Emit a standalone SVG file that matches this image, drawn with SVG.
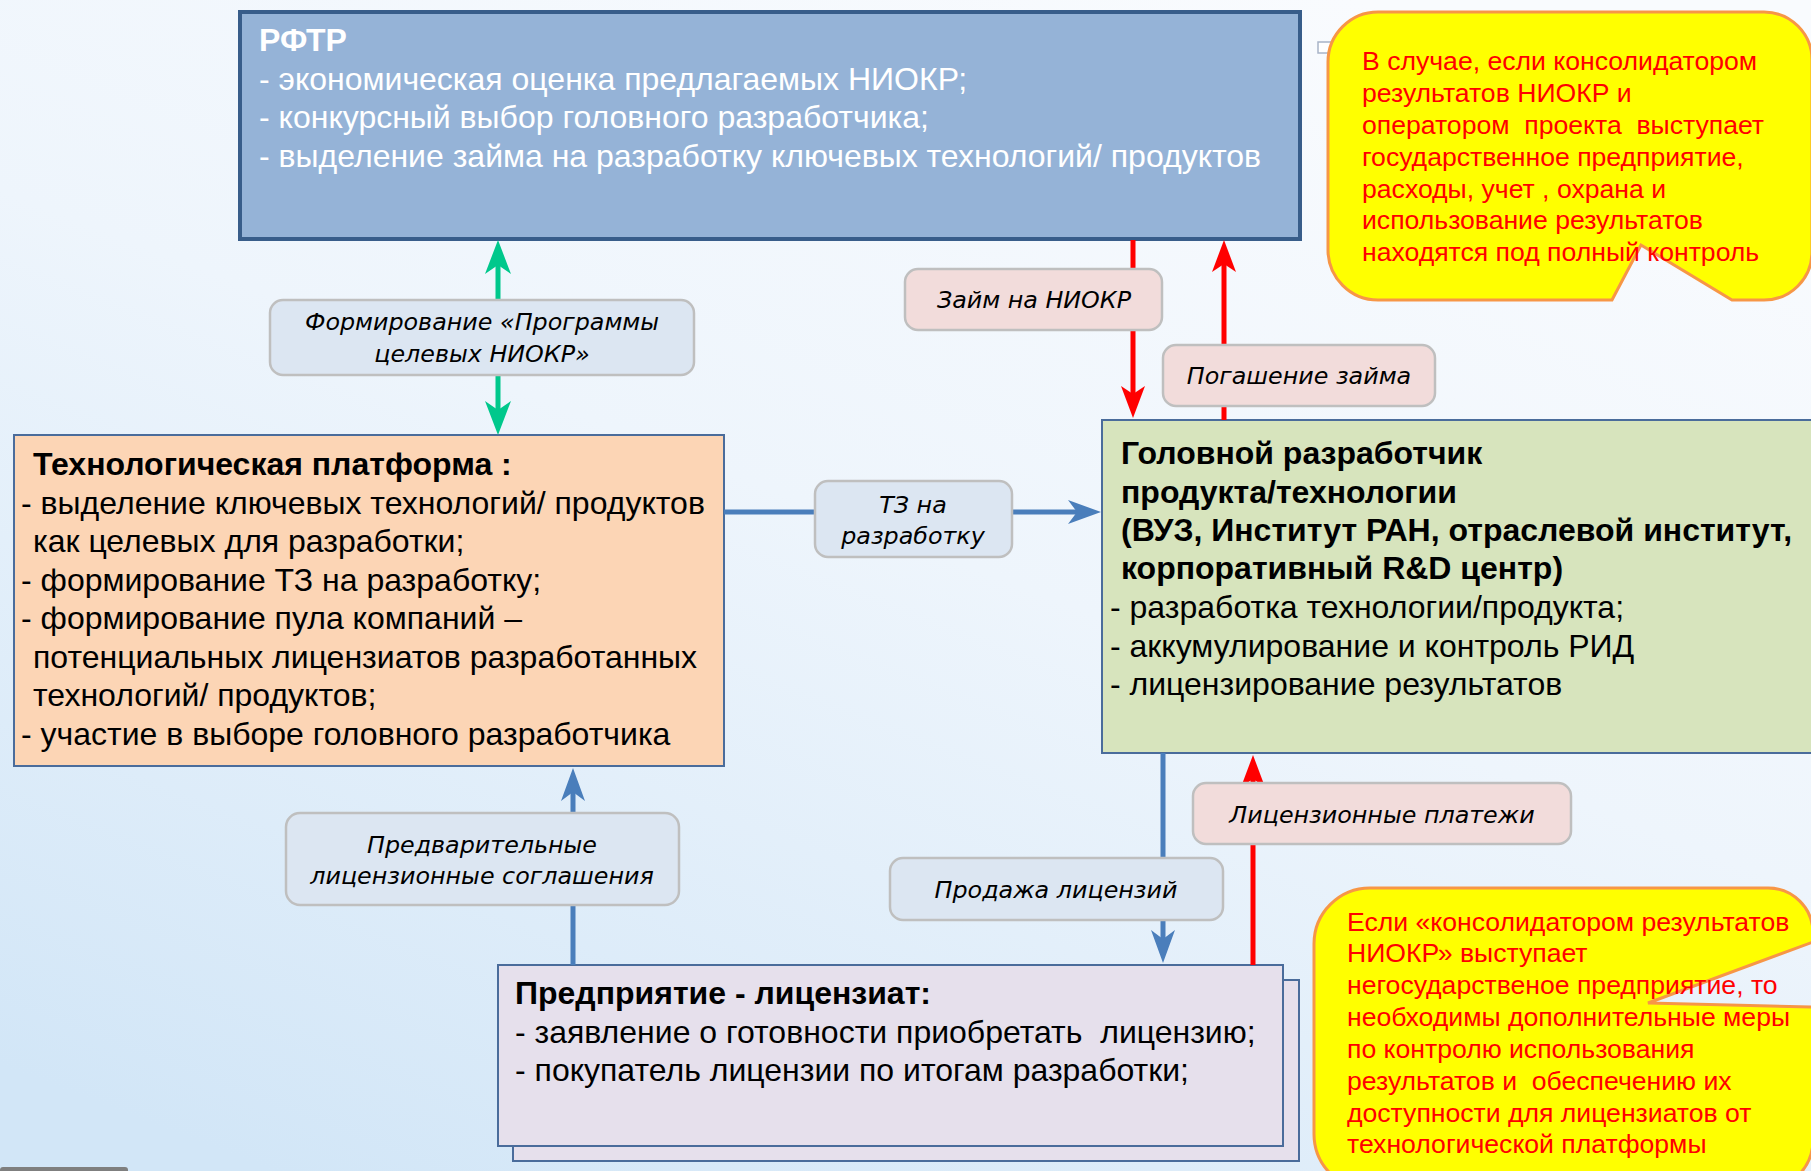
<svg xmlns="http://www.w3.org/2000/svg" width="1811" height="1171" viewBox="0 0 1811 1171">
<defs>
<linearGradient id="bg" x1="0.75" y1="0" x2="0.15" y2="1">
<stop offset="0" stop-color="#F9FBFE"/>
<stop offset="0.45" stop-color="#EEF5FC"/>
<stop offset="1" stop-color="#D2E6F7"/>
</linearGradient>
<marker id="hG" markerUnits="userSpaceOnUse" viewBox="-36 -15 38 30" markerWidth="38" markerHeight="30" refX="-8" refY="0" orient="auto-start-reverse">
<path d="M0,0 L-34,-13 L-25,0 L-34,13 Z" fill="#00C88C"/>
</marker>
<marker id="hR" markerUnits="userSpaceOnUse" viewBox="-36 -15 38 30" markerWidth="38" markerHeight="30" refX="-8" refY="0" orient="auto">
<path d="M0,0 L-32,-12 L-24,0 L-32,12 Z" fill="#FF0000"/>
</marker>
<marker id="hB" markerUnits="userSpaceOnUse" viewBox="-36 -15 38 30" markerWidth="38" markerHeight="30" refX="-8" refY="0" orient="auto">
<path d="M0,0 L-33,-12 L-24,0 L-33,12 Z" fill="#4A7EBB"/>
</marker>
</defs>
<style>
.box{stroke:#4A6C9B;stroke-width:2}
.t{font-family:"Liberation Sans",Arial,sans-serif;font-size:32px;fill:#000}
.b{font-weight:bold}
.w{fill:#FFFFFF}
.lbl{stroke:#BFBFBF;stroke-width:2.5}
.lb{fill:#DCE6F2}
.lp{fill:#F2DCDB}
.lt{font-family:"DejaVu Sans",Verdana,sans-serif;font-style:italic;font-size:23.8px;fill:#000;text-anchor:middle}
.ln{fill:none;stroke-width:5}
.g{stroke:#00C88C}
.r{stroke:#FF0000}
.bl{stroke:#4A7EBB}
.co{fill:#FFFF00;stroke:#F79646;stroke-width:3}
.ct{font-family:"Liberation Sans",Arial,sans-serif;font-size:26.6px;fill:#FF0000}
</style>
<rect x="0" y="0" width="1811" height="1171" fill="url(#bg)"/>
<rect x="0" y="1167" width="128" height="8" rx="3" fill="#7F7F7F"/>
<rect x="1318" y="42" width="14" height="11" fill="#FFFFFF" stroke="#A8B4C8" stroke-width="1.5"/>

<g id="rftr">
<rect x="240" y="12" width="1060" height="227" fill="#95B3D7" stroke="#385D8A" stroke-width="4"/>
<text class="t b w" x="259" y="51">РФТР</text>
<text class="t w" x="259" y="90">- экономическая оценка предлагаемых НИОКР;</text>
<text class="t w" x="259" y="128">- конкурсный выбор головного разработчика;</text>
<text class="t w" x="259" y="167">- выделение займа на разработку ключевых технологий/ продуктов</text>
</g>

<g id="tech-platform">
<rect class="box" x="14" y="435" width="710" height="331" fill="#FCD5B5"/>
<text class="t b" x="33" y="475">Технологическая платформа :</text>
<text class="t" x="21" y="513.5">- выделение ключевых технологий/ продуктов</text>
<text class="t" x="33" y="552">как целевых для разработки;</text>
<text class="t" x="21" y="590.5">- формирование ТЗ на разработку;</text>
<text class="t" x="21" y="629">- формирование пула компаний –</text>
<text class="t" x="33" y="667.5">потенциальных лицензиатов разработанных</text>
<text class="t" x="33" y="706">технологий/ продуктов;</text>
<text class="t" x="21" y="744.5">- участие в выборе головного разработчика</text>
</g>

<g id="head-developer">
<rect class="box" x="1102" y="420" width="730" height="333" fill="#D7E4BD"/>
<text class="t b" x="1121" y="464">Головной разработчик</text>
<text class="t b" x="1121" y="503">продукта/технологии</text>
<text class="t b" x="1121" y="541">(ВУЗ, Институт РАН, отраслевой институт,</text>
<text class="t b" x="1121" y="579">корпоративный R&amp;D центр)</text>
<text class="t" x="1110" y="618">- разработка технологии/продукта;</text>
<text class="t" x="1110" y="656.5">- аккумулирование и контроль РИД</text>
<text class="t" x="1110" y="695">- лицензирование результатов</text>
</g>

<g id="licensee">
<rect class="box" x="513" y="980" width="786" height="181" fill="#E6E0EC"/>
<rect class="box" x="498" y="965" width="785" height="181" fill="#E6E0EC"/>
<text class="t b" x="515" y="1004">Предприятие - лицензиат:</text>
<text class="t" x="515" y="1042.5" xml:space="preserve">- заявление о готовности приобретать  лицензию;</text>
<text class="t" x="515" y="1081">- покупатель лицензии по итогам разработки;</text>
</g>

<g id="connectors">
<path class="ln g" d="M498,248 V427" marker-start="url(#hG)" marker-end="url(#hG)"/>
<path class="ln r" d="M1133,240 V410" marker-end="url(#hR)"/>
<path class="ln r" d="M1224,420 V248" marker-end="url(#hR)"/>
<path class="ln bl" d="M724,512 H1093" marker-end="url(#hB)"/>
<path class="ln bl" d="M573,965 V776" marker-end="url(#hB)"/>
<path class="ln bl" d="M1163,753 V955" marker-end="url(#hB)"/>
<path class="ln r" d="M1253,965 V763" marker-end="url(#hR)"/>
</g>

<g id="label-program">
<rect class="lbl lb" x="270" y="300" width="424" height="75" rx="13"/>
<text class="lt" x="482" y="330">Формирование «Программы</text>
<text class="lt" x="482" y="362">целевых НИОКР»</text>
</g>
<g id="label-loan">
<rect class="lbl lp" x="905" y="269" width="257" height="61" rx="13"/>
<text class="lt" x="1034" y="308">Займ на НИОКР</text>
</g>
<g id="label-repay">
<rect class="lbl lp" x="1163" y="345" width="272" height="61" rx="13"/>
<text class="lt" x="1299" y="384">Погашение займа</text>
</g>
<g id="label-tz">
<rect class="lbl lb" x="815" y="481" width="197" height="76" rx="13"/>
<text class="lt" x="913" y="513">ТЗ на</text>
<text class="lt" x="913" y="544">разработку</text>
</g>
<g id="label-prelim">
<rect class="lbl lb" x="286" y="813" width="393" height="92" rx="14"/>
<text class="lt" x="482" y="853">Предварительные</text>
<text class="lt" x="482" y="884">лицензионные соглашения</text>
</g>
<g id="label-sale">
<rect class="lbl lb" x="890" y="858" width="333" height="62" rx="13"/>
<text class="lt" x="1056" y="898">Продажа лицензий</text>
</g>
<g id="label-payments">
<rect class="lbl lp" x="1193" y="783" width="378" height="61" rx="13"/>
<text class="lt" x="1382" y="823">Лицензионные платежи</text>
</g>

<g id="callout-state">
<path class="co" d="M1378,12 H1764 A48,48 0 0 1 1812,60 V252 A48,48 0 0 1 1764,300 H1732 L1641,245 L1612,300 H1378 A50,50 0 0 1 1328,250 V62 A50,50 0 0 1 1378,12 Z"/>
<text class="ct" x="1362" y="70">В случае, если консолидатором</text>
<text class="ct" x="1362" y="102">результатов НИОКР и</text>
<text class="ct" x="1362" y="134" xml:space="preserve">оператором  проекта  выступает</text>
<text class="ct" x="1362" y="166">государственное предприятие,</text>
<text class="ct" x="1362" y="198">расходы, учет , охрана и</text>
<text class="ct" x="1362" y="229">использование результатов</text>
<text class="ct" x="1362" y="261">находятся под полный контроль</text>
</g>

<g id="callout-private">
<path class="co" d="M1370,888 H1768 A45,45 0 0 1 1813,933 V942 L1648,1003 L1813,1007 V1140 A50,50 0 0 1 1763,1190 H1370 A56,56 0 0 1 1314,1134 V944 A56,56 0 0 1 1370,888 Z"/>
<text class="ct" x="1347" y="931">Если «консолидатором результатов</text>
<text class="ct" x="1347" y="962">НИОКР» выступает</text>
<text class="ct" x="1347" y="994">негосударственое предприятие, то</text>
<text class="ct" x="1347" y="1026">необходимы дополнительные меры</text>
<text class="ct" x="1347" y="1058">по контролю использования</text>
<text class="ct" x="1347" y="1090" xml:space="preserve">результатов и  обеспечению их</text>
<text class="ct" x="1347" y="1122">доступности для лицензиатов от</text>
<text class="ct" x="1347" y="1153">технологической платформы</text>
</g>
</svg>
